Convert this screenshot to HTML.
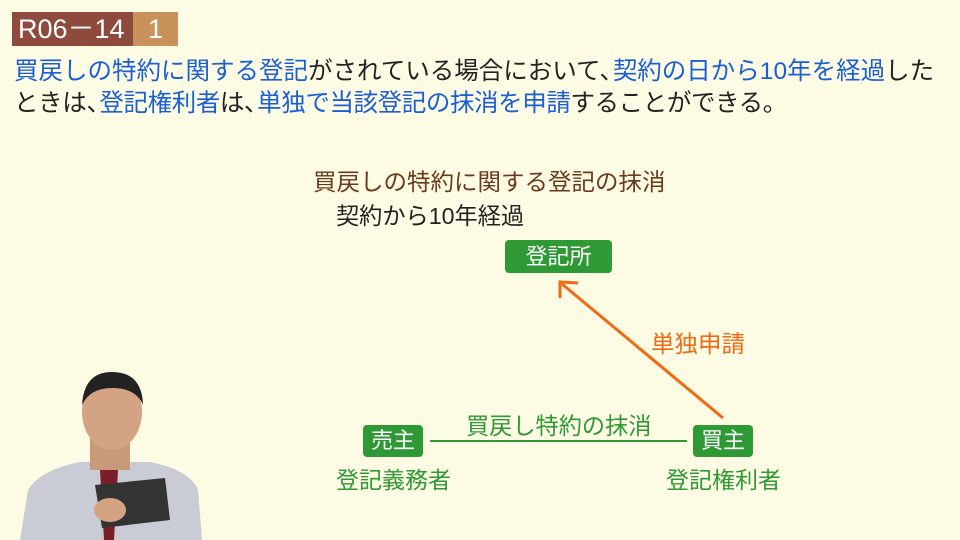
<!DOCTYPE html>
<html><head><meta charset="utf-8"><style>
body{margin:0;width:960px;height:540px;background:#fdfbe3;position:relative;overflow:hidden;font-family:"Liberation Sans","Noto Sans CJK JP",sans-serif}
.a{position:absolute;white-space:nowrap}
.b{color:#1a5fd6}
.c{margin-right:-11px}
.g{position:absolute;background:#2f9a35;color:#fff;border-radius:4px;text-align:center}
</style></head><body>
<div class="a" style="left:12px;top:12px;width:121px;height:34px;background:#8e4a3c;color:#fff;font-size:27px;line-height:34px;padding-left:6px;box-sizing:border-box">R06－14</div>
<div class="a" style="left:133px;top:12px;width:45px;height:34px;background:#c9925a;color:#fff;font-size:27px;line-height:34px;text-align:center">1</div>
<div class="a" style="left:14px;top:56px;font-size:24.5px;line-height:32px;color:#222"><span class="b">買戻しの特約に関する登記</span>がされている場合において<span class="c">、</span><span class="b">契約の日から10年を経過</span>した<br><span style="letter-spacing:-0.4px">ときは<span class="c">、</span><span class="b">登記権利者</span>は<span class="c">、</span><span class="b">単独で当該登記の抹消を申請</span>することができる。</span></div>
<div class="a" style="left:313px;top:163px;font-size:23.5px;color:#6b3a1c">買戻しの特約に関する登記の抹消</div>
<div class="a" style="left:336px;top:197px;font-size:23.2px;color:#222">契約から10年経過</div>
<div class="g" style="left:505px;top:240px;width:107px;height:33px;font-size:22px;line-height:33px">登記所</div>
<svg class="a" style="left:0;top:0" width="960" height="540">
<line x1="723" y1="418" x2="562" y2="284" stroke="#f06a14" stroke-width="3"/>
<polyline points="560,298 560,282 578,283" fill="none" stroke="#f06a14" stroke-width="3"/>
<line x1="430" y1="441" x2="687" y2="441" stroke="#2f9a35" stroke-width="2"/>
</svg>
<div class="a" style="left:651px;top:325px;font-size:23.5px;color:#f06a14">単独申請</div>
<div class="a" style="left:466px;top:407px;font-size:23.2px;color:#2f9a35">買戻し特約の抹消</div>
<div class="g" style="left:363px;top:425px;width:60px;height:32px;font-size:22px;line-height:32px">売主</div>
<div class="g" style="left:693px;top:425px;width:60px;height:32px;font-size:22px;line-height:32px">買主</div>
<div class="a" style="left:336px;top:461px;font-size:23px;color:#2f9a35">登記義務者</div>
<div class="a" style="left:666px;top:461px;font-size:23px;color:#2f9a35">登記権利者</div>
<svg class="a" style="left:0;top:360px" width="220" height="180">
<path d="M20 180 L28 130 Q40 110 80 102 L150 102 Q190 110 198 130 L202 180Z" fill="#c9ccd4"/>
<path d="M100 110 L118 110 L114 180 L104 180Z" fill="#7a1f2a"/>
<rect x="90" y="75" width="40" height="35" fill="#c99a7a"/>
<ellipse cx="112" cy="52" rx="30" ry="38" fill="#d4a384"/>
<path d="M82 45 Q84 12 112 12 Q142 12 143 45 Q136 28 112 28 Q90 28 82 45Z" fill="#222"/>
<path d="M95 125 L165 118 L170 160 L102 168Z" fill="#333"/>
<ellipse cx="110" cy="150" rx="16" ry="12" fill="#d4a384"/>
</svg>
</body></html>
